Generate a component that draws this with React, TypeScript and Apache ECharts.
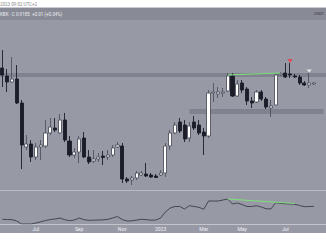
import React, { useEffect, useRef } from "react";
import * as echarts from "echarts";

const categories = [
  "2022-05-16","2022-05-23","2022-05-30","2022-06-06","2022-06-13","2022-06-20","2022-06-27",
  "2022-07-04","2022-07-11","2022-07-18","2022-07-25","2022-08-01","2022-08-08","2022-08-15",
  "2022-08-22","2022-08-29","2022-09-05","2022-09-12","2022-09-19","2022-09-26","2022-10-03",
  "2022-10-10","2022-10-17","2022-10-24","2022-10-31","2022-11-07","2022-11-14","2022-11-21",
  "2022-11-28","2022-12-05","2022-12-12","2022-12-19","2022-12-26","2023-01-02","2023-01-09",
  "2023-01-16","2023-01-23","2023-01-30","2023-02-06","2023-02-13","2023-02-20","2023-02-27",
  "2023-03-06","2023-03-13","2023-03-20","2023-03-27","2023-04-03","2023-04-10","2023-04-17",
  "2023-04-24","2023-05-01","2023-05-08","2023-05-15","2023-05-22","2023-05-29","2023-06-05",
  "2023-06-12","2023-06-19","2023-06-26","2023-07-03","2023-07-10","2023-07-17","2023-07-24",
  "2023-07-31","2023-08-07","2023-08-14","2023-08-21","2023-08-28",
];

// [open, close, low, high]
const candles = [
  [122,115,103,140],[114,108,98,121],[108,111,107,133],[111,87,86,125],[87,45,21,90],
  [43,46,40,55],[46,33,28,50],[33,43,30,47],[43,45,30,50],[44,57,42,70],
  [57,63,55,72],[62,60,58,72],[57,70,56,76],[70,50,48,77],[49,35,33,54],
  [35,38,32,42],[38,51,27,54],[52,33,32,58],[33,28,26,40],[29,31,27,40],
  [31,33,28,37],[34,32.5,25,39],[33,35,30,40],[35,42,33,45],[43,45,42,48],
  [44,11,7,47],[11,9,7,13],[10,12,5,14],[12,17,10,19],[15,17,14,19],
  [16,14,13,27],[15,13,12,17],[14,12.5,12,16],[15,17,14,20],[17,44,13,47],
  [44,57,40,60],[57,65,56,68],[68,59,57,72],[65,51,48,70],[52,64,48,68],
  [68,62,60,74],[65,57,55,70],[58,54,35,62],[54,97,52,100],[97,98,88,107],
  [96,98,92,103],[97,98,93,102],[99,114,98,117],[114,94,93,117],[94,106,93,110],
  [107,100,97,110],[101,89,85,103],[89,87,82,93],[88,98,87,100],[98,91,89,100],
  [91,83,81,93],[82,84,73,90],[85,115,85,117],[115,116,114,118],[117,113,112,127],
  [116,115,112,127],[114,113,112,116],[113,107,105,115],[107,105,104,109],[105,107,102,117],
  [106,107,105,108],
];

const indicator = [
  4.7,4.5,4.3,3,0,0,0,1,2.2,3.5,4.5,5,6,4.3,3.3,4,6,4.3,3.7,3.8,
  4,4.2,4.7,6,7.5,4.5,3,3.2,4,4.7,4.4,3.8,4,6,12,16,17.5,17.5,15,18.3,
  17.5,16.7,14.7,23,23,23,24,25,20,21,19.5,17.5,17.5,18.3,17,15.3,15,21.3,20.7,20.2,
  20,19.7,18.5,17.3,17.5,17.7,
];

const tickLabels: Record<string, string> = {
  "2022-07-04": "Jul",
  "2022-09-05": "Sep",
  "2022-11-07": "Nov",
  "2023-01-02": "2023",
  "2023-03-06": "Mar",
  "2023-05-01": "May",
  "2023-07-03": "Jul",
};

const resistanceZone = [113, 117];
const supportZone = [76, 81];
const supportStart = "2023-02-13";
const priceTrend = [["2023-04-10", 115], ["2023-06-26", 117]];
const indicatorTrend = [["2023-04-10", 25], ["2023-07-17", 20.5]];
const redMarker = [["2023-07-10", 129]];
const whiteMarker = [["2023-08-07", 119]];

export default function App() {
  const ref = useRef<HTMLDivElement>(null);
  useEffect(() => {
    if (!ref.current) return;
    const chart = echarts.init(ref.current, null, { renderer: "svg" });
    const font = "Roboto";
    chart.setOption({
      animation: false,
      backgroundColor: "#ffffff",
      textStyle: { fontFamily: font },
      graphic: [
        { type: "rect", z: -10, silent: true, shape: { x: 0, y: 8, width: 326, height: 225 }, style: { fill: "#979aa5" } },
        { type: "rect", z: -9, silent: true, shape: { x: 0, y: 8, width: 326, height: 12 }, style: { fill: "#888b95" } },
        { type: "line", z: 5, silent: true, shape: { x1: 0, y1: 7.5, x2: 326, y2: 7.5 }, style: { stroke: "#c9cbd2", lineWidth: 1 } },
        { type: "line", z: 5, silent: true, shape: { x1: 0, y1: 190.5, x2: 326, y2: 190.5 }, style: { stroke: "#b9bcc5", lineWidth: 1 } },
        { type: "text", z: 6, style: { x: 0, y: 4, text: "2023 09:02 UTC+2", fontSize: 4.5, fill: "#8a8a8a", fontFamily: font, verticalAlign: "middle" } },
        { type: "text", z: 6, style: { x: 0, y: 14, text: "KBK · C 0.9185  +0.01 (+0.34%)", fontSize: 4.5, fill: "#eceef2", fontFamily: font, verticalAlign: "middle" } },
        { type: "text", z: 6, style: { x: 324, y: 13, text: "USDT", fontSize: 4, fill: "#2e3039", fontFamily: font, align: "right", verticalAlign: "middle" } },
      ],
      grid: [
        { left: 0, right: 0, top: 8, height: 182 },
        { left: 0, right: 0, top: 191, height: 33 },
      ],
      xAxis: [
        {
          type: "category", gridIndex: 0, data: categories, boundaryGap: true,
          axisLine: { show: false }, axisTick: { show: false }, axisLabel: { show: false }, splitLine: { show: false },
        },
        {
          type: "category", gridIndex: 1, data: categories, boundaryGap: true,
          axisLine: { show: true, lineStyle: { color: "#c3c5cc", width: 1 } },
          axisTick: { show: false },
          splitLine: { show: false },
          axisLabel: {
            show: true,
            interval: (_i: number, v: string) => v in tickLabels,
            formatter: (v: string) => tickLabels[v] || "",
            color: "#eef0f4",
            fontSize: 5,
            margin: 2,
            fontFamily: font,
          },
        },
      ],
      yAxis: [
        { type: "value", gridIndex: 0, min: 0, max: 182, show: false, splitLine: { show: false } },
        { type: "value", gridIndex: 1, min: 0, max: 33, show: false, splitLine: { show: false } },
      ],
      series: [
        {
          type: "candlestick",
          xAxisIndex: 0, yAxisIndex: 0,
          data: candles,
          barWidth: 3.6,
          itemStyle: {
            color: "#ffffff",
            color0: "#1b1e28",
            borderColor: "#50535d",
            borderColor0: "#1b1e28",
            borderWidth: 0.9,
          },
          markArea: {
            silent: true,
            itemStyle: { color: "rgba(70,73,85,0.28)" },
            data: [
              [{ yAxis: resistanceZone[0] }, { yAxis: resistanceZone[1] }],
              [{ xAxis: supportStart, yAxis: supportZone[0] }, { xAxis: categories[categories.length - 1], yAxis: supportZone[1] }],
            ],
          },
          markLine: {
            silent: true,
            symbol: "none",
            label: { show: false },
            lineStyle: { color: "#7fe07a", width: 1, type: "solid" },
            data: [[{ coord: priceTrend[0] }, { coord: priceTrend[1] }]],
          },
        },
        {
          type: "scatter", xAxisIndex: 0, yAxisIndex: 0,
          data: redMarker, symbol: "triangle", symbolRotate: 180, symbolSize: [5, 4],
          itemStyle: { color: "#f23645" },
        },
        {
          type: "scatter", xAxisIndex: 0, yAxisIndex: 0,
          data: whiteMarker, symbol: "triangle", symbolRotate: 180, symbolSize: [5, 3],
          itemStyle: { color: "#ffffff" },
        },
        {
          type: "line", xAxisIndex: 1, yAxisIndex: 1,
          data: indicator, symbol: "none",
          lineStyle: { color: "#3a3d47", width: 0.9 },
          markLine: {
            silent: true,
            symbol: "none",
            label: { show: false },
            lineStyle: { color: "#7fe07a", width: 1, type: "solid" },
            data: [[{ coord: indicatorTrend[0] }, { coord: indicatorTrend[1] }]],
          },
        },
      ],
    });
    return () => chart.dispose();
  }, []);
  return <div ref={ref} style={{ position: "absolute", left: 0, top: 0, width: 326, height: 245 }} />;
}
